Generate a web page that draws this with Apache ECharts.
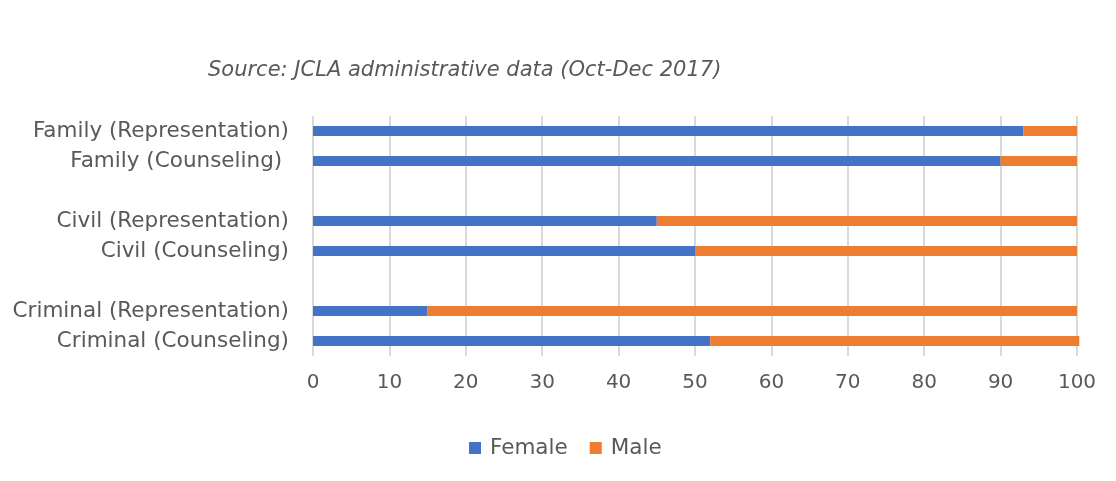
<!DOCTYPE html>
<html><head><meta charset="utf-8">
<script src="https://cdn.jsdelivr.net/npm/echarts@6/dist/echarts.min.js"></script>
<style>html,body{margin:0;padding:0;background:#fff}#c{width:1116px;height:481px}</style>
</head><body><div id="c"></div>
<script>
const categories = ['Family (Representation)', 'Family (Counseling) ', '', 'Civil (Representation)', 'Civil (Counseling)', '', 'Criminal (Representation)', 'Criminal (Counseling)'];
const female = [93, 90, null, 45, 50, null, 15, 52];
const male = [7, 10, null, 55, 50, null, 85, 48.3];
const xTicks = [0, 10, 20, 30, 40, 50, 60, 70, 80, 90, 100];

const font = 'DejaVu Sans';
const chart = echarts.init(document.getElementById('c'));
chart.setOption({
  animation: false,
  title: {
    text: 'Source: JCLA administrative data (Oct-Dec 2017)',
    left: 203, top: 55,
    textStyle: { fontFamily: font, fontStyle: 'italic', fontWeight: 'normal', fontSize: 21, color: '#595959' }
  },
  legend: {
    bottom: 22, left: 469, padding: 0,
    itemWidth: 12, itemHeight: 12, itemGap: 22,
    icon: 'rect',
    textStyle: { fontFamily: font, fontSize: 21.5, color: '#595959', padding: [0, 0, 0, 4] },
    data: ['Female', 'Male']
  },
  grid: { left: 313, right: 39, top: 116, bottom: 125, containLabel: false },
  xAxis: {
    type: 'value', min: 0, max: 100, interval: 10,
    axisLine: { show: false }, axisTick: { show: false },
    splitLine: { lineStyle: { color: '#d9d9d9', width: 2 } },
    axisLabel: { fontFamily: font, fontSize: 20, color: '#595959', margin: 17,
      formatter: v => xTicks.includes(v) ? String(v) : '' }
  },
  yAxis: {
    type: 'category', inverse: true, data: categories,
    axisLine: { show: false }, axisTick: { show: false },
    axisLabel: { fontFamily: font, fontSize: 21.5, color: '#595959', margin: 24 }
  },
  series: [
    { name: 'Female', type: 'bar', stack: 't', data: female, barWidth: 10, clip: false, itemStyle: { color: '#4472c4' } },
    { name: 'Male', type: 'bar', stack: 't', data: male, barWidth: 10, clip: false, itemStyle: { color: '#ed7d31' } }
  ]
});
</script></body></html>
